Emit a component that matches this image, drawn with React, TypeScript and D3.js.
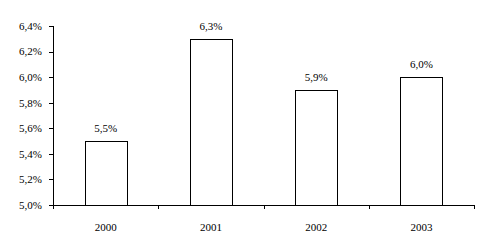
import React from "react";
import * as d3 from "d3";

const categories = ["2000", "2001", "2002", "2003"];
const values = [5.5, 6.3, 5.9, 6.0];
const yTicks = [5.0, 5.2, 5.4, 5.6, 5.8, 6.0, 6.2, 6.4];

const fmt = (v: number) => v.toFixed(1).replace(".", ",") + "%";

export default function App() {
  const W = 487, H = 251;
  const left = 53, right = 474, top = 26, bottom = 205;
  const x = d3.scaleBand<string>().domain(categories).range([left, right]).paddingInner(0.6).paddingOuter(0.3);
  const y = d3.scaleLinear().domain([5.0, 6.4]).range([bottom, top]);
  const step = (right - left) / categories.length;
  const font = "'Liberation Serif', 'Times New Roman', serif";
  return (
    <svg width={W} height={H} style={{ position: "absolute", left: 0, top: 0, background: "#fff" }}>
      <g fontFamily={font} fontSize={11} fill="#000">
        {/* y axis */}
        <line x1={left + 0.5} x2={left + 0.5} y1={top} y2={bottom} stroke="#000" />
        {yTicks.map((t) => (
          <g key={t}>
            <line x1={left - 4} x2={left} y1={Math.round(y(t)) + 0.5} y2={Math.round(y(t)) + 0.5} stroke="#000" />
            <text x={42} y={y(t)} dy="0.35em" textAnchor="end">{fmt(t)}</text>
          </g>
        ))}
        {/* bars */}
        {categories.map((c, i) => {
          const bx = Math.round(x(c)!) + 0.5;
          const by = Math.round(y(values[i])) + 0.5;
          return (
            <g key={c}>
              <rect x={bx} y={by} width={Math.round(x.bandwidth())} height={bottom - by + 0.5} fill="#fff" stroke="#000" />
              <text x={x(c)! + x.bandwidth() / 2} y={y(values[i]) - 9} textAnchor="middle">{fmt(values[i])}</text>
              <text x={x(c)! + x.bandwidth() / 2} y={231} textAnchor="middle">{c}</text>
            </g>
          );
        })}
        {/* x axis */}
        <line x1={left} x2={right} y1={bottom + 0.5} y2={bottom + 0.5} stroke="#000" />
        {d3.range(categories.length + 1).map((i) => (
          <line key={i} x1={Math.round(left + i * step) + 0.5} x2={Math.round(left + i * step) + 0.5} y1={bottom} y2={bottom + 4} stroke="#000" />
        ))}
      </g>
    </svg>
  );
}
